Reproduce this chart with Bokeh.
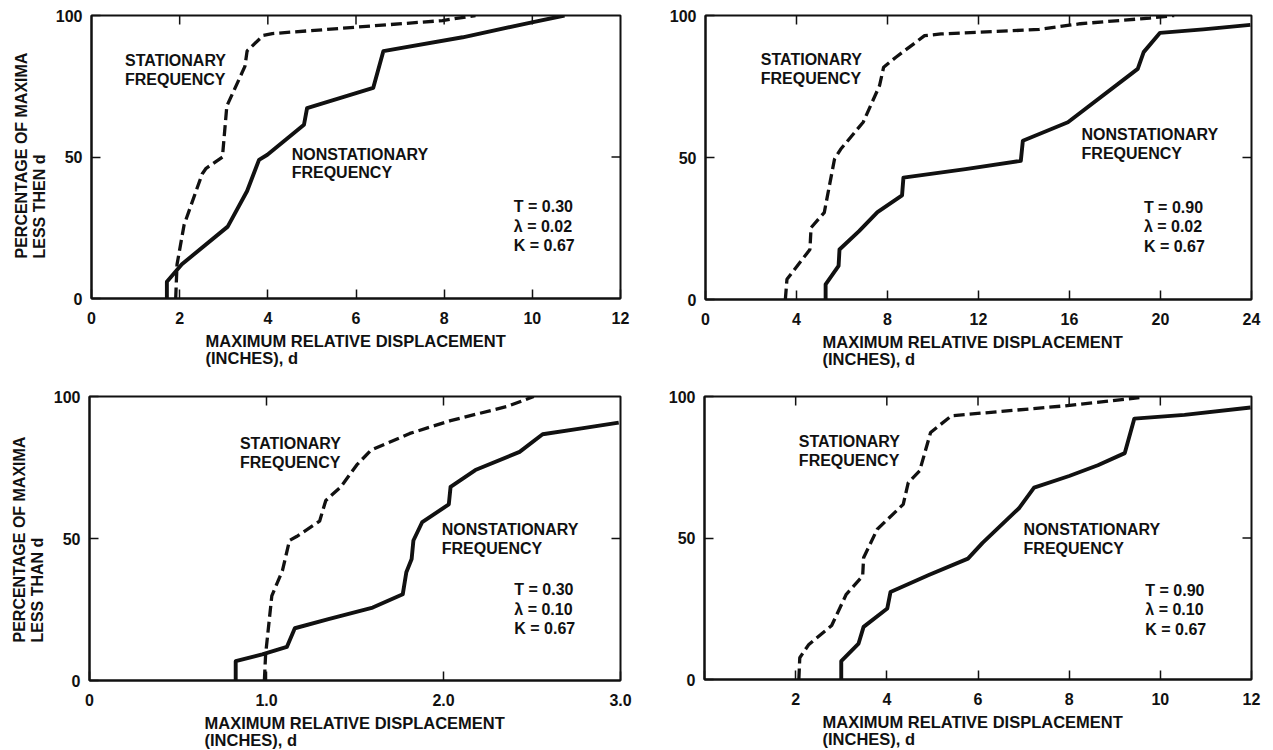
import math
from bokeh.plotting import figure
from bokeh.layouts import column, row
from bokeh.models import Range1d, FixedTicker, Label, Title
from bokeh.embed import file_html
from bokeh.resources import INLINE

FONT = "Liberation Sans"
INK = "#111111"

# ---------------- data ----------------
# Panel A: T = 0.30, lambda = 0.02
a_non_x = [1.71, 1.71, 2.05, 3.09, 3.53, 3.80, 3.99, 4.82, 4.89, 6.39, 6.62, 8.42, 9.99, 10.73]
a_non_y = [0, 5.9, 12.1, 25.4, 38, 49, 50.8, 61.4, 67.3, 74.4, 87.4, 92.3, 97.6, 100]
a_st_x = [1.91, 1.94, 2.10, 2.51, 2.60, 2.97, 3.07, 3.48, 3.53, 3.90, 4.10, 6.02, 7.96, 8.71]
a_st_y = [0, 12, 26, 44, 46, 50, 68, 82, 87.5, 93, 93.6, 95.9, 98.2, 100]

# Panel B: T = 0.90, lambda = 0.02
b_non_x = [5.28, 5.28, 5.85, 5.89, 6.75, 7.56, 8.64, 8.70, 11.43, 13.86, 13.95, 15.93, 19.0, 19.26, 19.98, 21.88, 23.95]
b_non_y = [0, 5.3, 11.8, 17.6, 24.1, 30.8, 36.7, 42.9, 45.9, 48.8, 55.9, 62.4, 81.2, 87.1, 93.9, 95.1, 96.7]
b_st_x = [3.51, 3.58, 4.59, 4.64, 5.22, 5.67, 5.94, 6.93, 7.65, 7.83, 8.37, 9.63, 10.35, 14.67, 16.47, 19.53, 20.6]
b_st_y = [0, 7.1, 17.6, 25.3, 30.6, 49.4, 52.9, 62.4, 75.3, 81.8, 85.3, 92.9, 93.5, 95.1, 97.1, 99.1, 100]

# Panel C: T = 0.30, lambda = 0.10
c_non_x = [0.826, 0.826, 0.976, 1.115, 1.16, 1.35, 1.60, 1.77, 1.79, 1.82, 1.83, 1.88, 2.03, 2.04, 2.18, 2.43, 2.56, 2.78, 2.99]
c_non_y = [0, 6.8, 9.2, 11.8, 18.4, 21.6, 25.7, 30.4, 38.1, 42.8, 49.3, 55.8, 62, 68.2, 74.1, 80.5, 86.7, 88.8, 90.8]
c_st_x = [0.988, 0.995, 1.03, 1.09, 1.13, 1.17, 1.30, 1.335, 1.42, 1.51, 1.59, 1.81, 2.04, 2.36, 2.51]
c_st_y = [0, 9.2, 29.8, 38.7, 49.3, 50.7, 56.1, 63.4, 68.2, 75.9, 81.1, 87, 91.5, 96.5, 100]

# Panel D: T = 0.90, lambda = 0.10
d_non_x = [3.0, 3.0, 3.38, 3.49, 4.01, 4.08, 4.92, 5.78, 6.10, 6.91, 7.23, 8.0, 8.63, 9.22, 9.43, 10.53, 11.98]
d_non_y = [0, 6.5, 12.7, 18.6, 25.1, 30.9, 36.9, 42.7, 48.3, 60.7, 67.8, 71.9, 75.7, 80, 92.2, 93.5, 96.1]
d_st_x = [2.07, 2.09, 2.29, 2.79, 3.11, 3.47, 3.49, 3.79, 4.36, 4.47, 4.72, 4.96, 5.42, 7.91, 9.54]
d_st_y = [0, 7.7, 12.4, 19.1, 30.1, 36.6, 43, 53.1, 61.9, 69.6, 73.7, 87.3, 93.2, 96.7, 99.6]

# tick values / labels
a_xticks = [0, 2, 4, 6, 8, 10, 12]
b_xticks = [0, 4, 8, 12, 16, 20, 24]
c_xticks = [0, 1, 2, 3]
c_xlabels = {1: "1.0", 2: "2.0", 3: "3.0"}
d_xticks = [0, 2, 4, 6, 8, 10, 12]
d_xlabels = {0: ""}
yticks = [0, 50, 100]

ylabel_top = "PERCENTAGE OF MAXIMA\nLESS THEN d"
ylabel_bottom = "PERCENTAGE OF MAXIMA\nLESS THAN d"
xlabel = "MAXIMUM RELATIVE DISPLACEMENT\n(INCHES), d"
st_text = "STATIONARY\nFREQUENCY"
non_text = "NONSTATIONARY\nFREQUENCY"
params = ["T = 0.30\nλ = 0.02\nK = 0.67", "T = 0.90\nλ = 0.02\nK = 0.67",
          "T = 0.30\nλ = 0.10\nK = 0.67", "T = 0.90\nλ = 0.10\nK = 0.67"]

TICK = 9


def txt(**kw):
    base = dict(text_font=FONT, text_font_style="bold", text_font_size="16px",
                text_color=INK, text_line_height=1.1)
    base.update(kw)
    return Label(**base)


def title(text, offset, standoff, line_height, size="16px"):
    return Title(text=text, align="left", offset=offset, standoff=standoff,
                 text_font=FONT, text_font_style="bold", text_font_size=size,
                 text_color=INK, text_line_height=line_height)


def panel(xmax, xticks, overrides, non_x, non_y, st_x, st_y, ylab, par,
          st_pos, non_pos, par_pos, fw, fh, bl, br, bt, bb, xl_off, xl_stand, yl_up):
    p = figure(x_range=Range1d(0, xmax), y_range=Range1d(0, 100),
               frame_width=fw, frame_height=fh,
               min_border_left=bl, min_border_right=br,
               min_border_top=bt, min_border_bottom=bb,
               output_backend="svg", toolbar_location=None)
    p.grid.visible = False
    p.outline_line_color = INK
    p.outline_line_width = 2
    p.background_fill_color = "white"
    p.border_fill_color = "white"

    for ax, ticks in ((p.xaxis[0], xticks), (p.yaxis[0], yticks)):
        ax.ticker = FixedTicker(ticks=ticks)
        ax.minor_tick_line_color = None
        ax.major_tick_in = TICK
        ax.major_tick_out = 0
        ax.major_tick_line_width = 1.5
        ax.major_tick_line_color = INK
        ax.axis_line_width = 2
        ax.axis_line_color = INK
        ax.major_label_text_font = FONT
        ax.major_label_text_font_style = "bold"
        ax.major_label_text_font_size = "16px"
        ax.major_label_text_color = INK
    p.xaxis[0].major_label_standoff = 13
    p.yaxis[0].major_label_standoff = 9
    if overrides:
        p.xaxis[0].major_label_overrides = overrides

    # inward ticks on the top and right edges of the frame
    inner_x = [t for t in xticks if 0 < t < xmax]
    p.ray(x=inner_x, y=[100] * len(inner_x), length=TICK, angle=-math.pi / 2,
          length_units="screen", line_color=INK, line_width=1.5)
    inner_y = [t for t in yticks if 0 < t < 100]
    p.ray(x=[xmax] * len(inner_y), y=inner_y, length=TICK, angle=math.pi,
          length_units="screen", line_color=INK, line_width=1.5)

    p.line(non_x, non_y, line_color=INK, line_width=3.9, line_join="round")
    p.line(st_x, st_y, line_color=INK, line_width=3.3, line_dash="11 5")

    p.add_layout(txt(x=st_pos[0], y=st_pos[1], text=st_text, text_baseline="top"))
    p.add_layout(txt(x=non_pos[0], y=non_pos[1], text=non_text, text_baseline="top"))
    p.add_layout(txt(x=par_pos[0], y=par_pos[1], text=par, text_baseline="top",
                     text_line_height=1.15))

    p.add_layout(title(xlabel, xl_off, xl_stand, 0.95, "16.5px"), "below")
    if ylab:
        p.add_layout(title(ylab, yl_up, 8, 1.08), "left")
    return p


pa = panel(12, a_xticks, None, a_non_x, a_non_y, a_st_x, a_st_y, ylabel_top, params[0],
           (0.76, 87), (4.54, 54), (9.58, 35.5), 529, 283, 91, 40, 15, 77, 114, 8, 40)
pb = panel(24, b_xticks, None, b_non_x, b_non_y, b_st_x, b_st_y, None, params[1],
           (2.43, 87.5), (16.53, 61), (19.27, 35.5), 546, 284, 45, 14, 14, 77, 117, 8, 0)
pc = panel(3, c_xticks, c_xlabels, c_non_x, c_non_y, c_st_x, c_st_y, ylabel_bottom, params[2],
           (0.85, 86.5), (1.99, 56), (2.40, 35), 531, 284, 89, 40, 20, 69, 115, 7, 38)
pd = panel(12, d_xticks, d_xlabels, d_non_x, d_non_y, d_st_x, d_st_y, None, params[3],
           (2.07, 87), (7.0, 56), (9.67, 34.5), 547, 283, 44, 14, 21, 69, 118, 7, 0)

layout = column(row(pa, pb), row(pc, pd))
open("out.html", "w").write(file_html(layout, INLINE))
